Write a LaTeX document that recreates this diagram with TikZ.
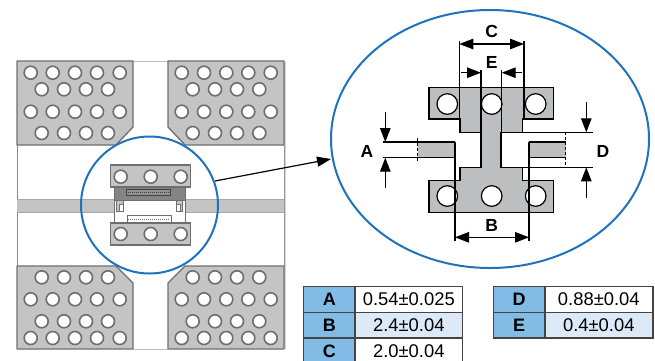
\documentclass[tikz,border=0pt]{standalone}
\usepackage{fontspec}
\setmainfont{Liberation Sans}
\usetikzlibrary{shapes.geometric,arrows.meta}
\definecolor{padfill}{HTML}{C4C4C4}
\definecolor{padline}{HTML}{6E6E6E}
\definecolor{detfill}{HTML}{BDBEC0}
\definecolor{ringblue}{HTML}{1E73BE}
\definecolor{headblue}{HTML}{82BCE6}
\definecolor{rowblue}{HTML}{DCE9F7}
\definecolor{tabline}{HTML}{444444}
\tikzset{
  padshape/.style={fill=padfill,draw=padline,line width=1.3pt,line join=round},
  holeshape/.style={circle,fill=white,draw=padline,line width=1.6pt,minimum size=13pt,inner sep=0pt},
  detshape/.style={fill=detfill,draw=black,line width=1.2pt},
  dethole/.style={circle,fill=white,draw=black,line width=1.2pt,minimum size=20.6pt,inner sep=0pt},
  dimline/.style={draw=black,line width=1.2pt},
  dimarrow/.style={draw=black,line width=1.2pt,-{Triangle[length=14pt,width=10.5pt]}},
  dimboth/.style={draw=black,line width=1.2pt,{Triangle[length=14pt,width=10.5pt]}-{Triangle[length=14pt,width=10.5pt]}},
  dimlabel/.style={font=\fontsize{17.5}{17}\selectfont\bfseries,inner sep=0pt},
  cellshape/.style={draw=tabline,line width=1.4pt,font=\fontsize{18.4}{18}\selectfont,inner sep=0pt,anchor=north west},
  headcell/.style={cellshape,fill=headblue,font=\fontsize{18}{18}\selectfont\bfseries,minimum width=51.4pt,minimum height=25.6pt},
}
\begin{document}
\begin{tikzpicture}[x=1pt,y=-1pt]
\useasboundingbox (0,0) rectangle (655,360);
% frame of the board
\draw[draw=padline!45,line width=1pt] (133,61) -- (168,61) (133,349) -- (168,349);
\draw[draw=padline!30,line width=2pt] (285,62) -- (285,349);
\draw[draw=padline!80,line width=1pt] (17,145) -- (17,266);
\draw[draw=padline!70,line width=1pt] (284,145) -- (284,266);
% band
\fill[fill=padfill] (17,199) rectangle (284,212);
\draw[draw=padline!60,line width=1pt] (17,199) -- (284,199) (17,212) -- (284,212);
% four pads
\draw[padshape] (17,61) -- (133,61) -- (133,127) -- (116,145) -- (17,145) -- cycle;
\draw[padshape] (168,61) -- (284,61) -- (284,145) -- (185,145) -- (168,127) -- cycle;
\draw[padshape] (17,266) -- (116,266) -- (133,283) -- (133,349) -- (17,349) -- cycle;
\draw[padshape] (185,266) -- (284,266) -- (284,349) -- (168,349) -- (168,283) -- cycle;
% holes
\foreach \hy in {72.7,111.7}{
  \foreach \hx in {30.7,52.7,75,97,119.7,181.7,204,226.3,248.3,270.7}{\node[holeshape] at (\hx,\hy) {};}}
\foreach \hy in {89.3,133}{
  \foreach \hx in {41.7,64,86,108,192.7,215,237,259.3}{\node[holeshape] at (\hx,\hy) {};}}
\foreach \hy in {277.3,321.3}{
  \foreach \hx in {41.7,64,86,108,192.7,215,237,259.3}{\node[holeshape] at (\hx,\hy) {};}}
\foreach \hy in {299.3,338}{
  \foreach \hx in {30.7,52.7,75,97,119.7,181.7,204,226.3,248.3,270.7}{\node[holeshape] at (\hx,\hy) {};}}
% connector in the small ring
\fill[fill=white] (114.3,187) rectangle (185,223);
\draw[fill=padline!85,draw=padline,line width=.8pt] (114.3,187) rectangle (185,200.7);
\draw[draw=padline,line width=1pt] (114.3,200.7) -- (114.3,223) (185,200.7) -- (185,223);
\draw[draw=padline!60!black,line width=.8pt,fill=padline!75] (126.7,189) rectangle (170.7,195);
\draw[draw=padline!60!black,line width=.8pt,dash pattern=on 1pt off 1pt] (127.5,192) -- (170,192);
\draw[draw=padline,line width=.8pt,fill=white] (127,215.7) rectangle (171,222);
\draw[draw=padline,line width=.8pt,dash pattern=on 1pt off 1pt] (128,219) -- (170,219);
\draw[draw=padline,line width=.8pt,fill=padfill] (116.7,200) rectangle (123,211);
\draw[draw=padline,line width=.8pt,fill=white] (119,204) rectangle (123,211);
\draw[draw=padline,line width=.8pt,fill=padfill] (176,200) rectangle (182.7,211);
\draw[draw=padline,line width=.8pt,fill=white] (176,204) rectangle (180,211);
\draw[padshape] (110.7,165) rectangle (190.7,187);
\draw[padshape] (110.7,223) rectangle (190.7,245);
\foreach \hx in {120.7,150.7,180.7}{
  \node[holeshape] at (\hx,176.7) {};
  \node[holeshape] at (\hx,234) {};}
% rings
\node[circle,draw=ringblue,line width=2pt,minimum size=137pt,inner sep=0pt] (smallring) at (149.5,205) {};
\node[ellipse,draw=ringblue,line width=2pt,fill=white,minimum width=318pt,minimum height=258pt,inner sep=0pt] (bigring) at (490,139) {};
\coordinate (arrowstart) at (215,181);
\draw[draw=black,line width=1.2pt,-{Triangle[length=14pt,width=10pt]}] (arrowstart) -- (331,159);
% detail
\draw[detshape] (429,87.3) -- (553.7,87.3) -- (553.7,119) -- (522.7,119) -- (522.7,132.3) -- (501,132.3) -- (501,167.3) -- (522.7,167.3) -- (522.7,180.7) -- (553.7,180.7) -- (553.7,212.3) -- (429,212.3) -- (429,180.7) -- (460,180.7) -- (460,167.3) -- (481,167.3) -- (481,132.3) -- (460,132.3) -- (460,119) -- (429,119) -- cycle;
\fill[fill=detfill] (417.7,142) rectangle (455,157.7);
\fill[fill=detfill] (529,142) rectangle (565.7,157.7);
\foreach \hx in {447.3,491.7,535.7}{
  \node[dethole] at (\hx,104) {};
  \node[dethole] at (\hx,196) {};}
% side pad outlines and extension lines
\draw[dimline] (383.3,142) -- (455,142) (383.3,157.7) -- (455,157.7);
\draw[dimline] (529,142) -- (565.7,142) (529,157.7) -- (565.7,157.7);
\draw[dimline] (455,142) -- (455,240.7) (529,142) -- (529,240.7);
\draw[dimline,dash pattern=on 3pt off 2pt] (417.7,138.3) -- (417.7,161.7);
\draw[dimline,dash pattern=on 3pt off 2pt] (565.7,132.3) -- (565.7,167.3);
\draw[dimline] (522.7,132.3) -- (593,132.3) (501,167.3) -- (593,167.3);
\draw[dimline] (459.3,40.7) -- (459.3,119) (524,40.7) -- (524,119);
\draw[dimline] (481,70) -- (481,132.3) (501.7,70) -- (501.7,132.3);
% dimension arrows
\draw[dimboth] (459.3,44) -- (524,44);
\draw[dimarrow] (461,72.7) -- (481,72.7);
\draw[dimarrow] (521.7,72.7) -- (501.7,72.7);
\draw[dimboth] (455,237.3) -- (529,237.3);
\draw[dimarrow] (385.3,111.7) -- (385.3,142);
\draw[dimarrow] (385.3,188) -- (385.3,157.7);
\draw[dimarrow] (586.3,102) -- (586.3,132.3);
\draw[dimarrow] (586.3,198) -- (586.3,167.3);
% labels
\node[dimlabel] (lc) at (491.7,31.5) {C};
\node[dimlabel] (le) at (491.7,62) {E};
\node[dimlabel] (la) at (367,151) {A};
\node[dimlabel] (ld) at (603,151) {D};
\node[dimlabel] (lb) at (491.7,225.5) {B};
% tables
\node[headcell] (ta) at (303,286) {A};
\node[headcell] (tb) at (303,311.7) {B};
\node[headcell] (tc) at (303,337.3) {C};
\node[cellshape,fill=white,minimum width=107.4pt,minimum height=25.6pt] (va) at (354.4,286) {0.54±0.025};
\node[cellshape,fill=rowblue,minimum width=107.4pt,minimum height=25.6pt] (vb) at (354.4,311.7) {2.4±0.04};
\node[cellshape,fill=white,minimum width=107.4pt,minimum height=25.6pt] (vc) at (354.4,337.3) {2.0±0.04};
\node[headcell] (td) at (492.7,286) {D};
\node[headcell] (te) at (492.7,311.7) {E};
\node[cellshape,fill=white,minimum width=108pt,minimum height=25.6pt] (vd) at (544.1,286) {0.88±0.04};
\node[cellshape,fill=rowblue,minimum width=108pt,minimum height=25.6pt] (ve) at (544.1,311.7) {0.4±0.04};
\end{tikzpicture}
\end{document}
